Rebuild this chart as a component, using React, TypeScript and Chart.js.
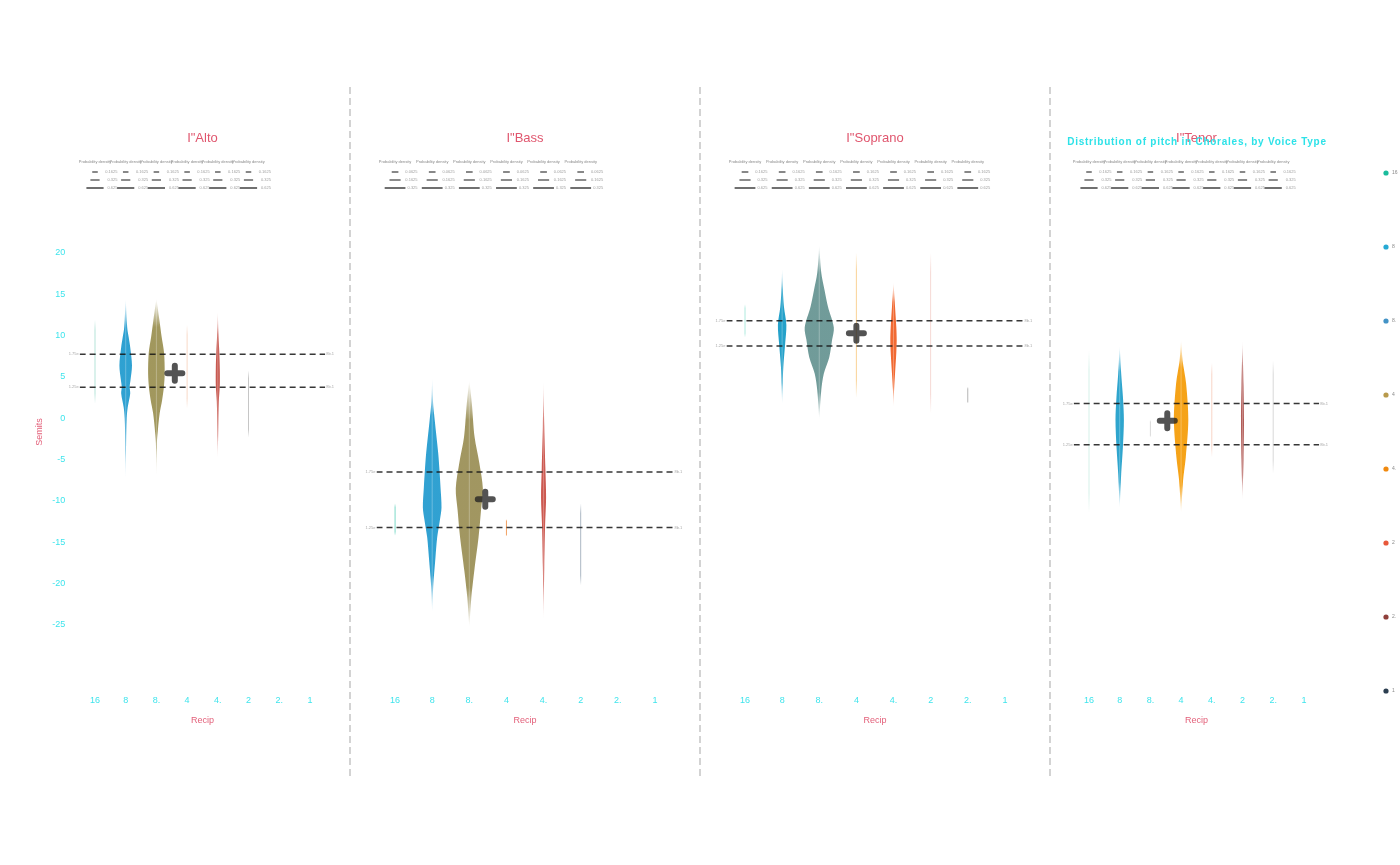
import React, { useEffect, useRef } from 'react';
import { Chart, registerables } from 'chart.js';

Chart.register(...registerables);

// ---------- data ----------
const categories = ['16', '8', '8.', '4', '4.', '2', '2.', '1'];
const yTicks = [20, 15, 10, 5, 0, -5, -10, -15, -20, -25];
const facetNames = ['I"Alto', 'I"Bass', 'I"Soprano', 'I"Tenor'];
const mainTitle = 'Distribution of pitch in Chorales, by Voice Type';
const legendLabels = ['16', '8', '8.', '4', '4.', '2', '2.', '1'];
const sizeLegendHeader = 'Probability density';
const sizeLegendLabels = ['0.1625', '0.325', '0.625'];
const sizeLegendLabelsBass = ['0.0625', '0.1625', '0.325'];
const quantileLeftLabels = ['1.75e', '1.25e'];
const quantileRightLabels = ['8b.1', '8b.1'];

// Alto
const altoViolinCats = [1, 2, 4];
const altoViolinPitch = [
  [-7.5, -3, 0, 1.3, 3, 3.8, 4.6, 6.4, 8.6, 9.8, 11, 14.5],
  [-7.1, -3, -1.4, 0.6, 2.2, 3.8, 5.4, 7.9, 9.8, 11.9, 14.5],
  [-5, -1, 2, 4, 6, 8, 10, 13],
];
const altoViolinDensity = [
  [0, 0.013, 0.033, 0.065, 0.147, 0.13, 0.156, 0.205, 0.147, 0.098, 0.049, 0],
  [0, 0.016, 0.049, 0.107, 0.186, 0.244, 0.27, 0.25, 0.173, 0.098, 0],
  [0, 0.016, 0.033, 0.065, 0.065, 0.049, 0.023, 0],
];
const altoLineCats = [0, 3, 5];
const altoLineLow = [1.8, 1.2, -2.3];
const altoLineHigh = [11.9, 11.3, 5.8];
const altoQuantiles = [7.75, 3.75];
const altoMean = [2.6, 5.45];

// Bass
const bassViolinCats = [1, 2, 4];
const bassViolinPitch = [
  [-23.6, -20.4, -16.8, -14.4, -12.3, -10.8, -8.3, -6.3, -4.2, -0.2, 2, 5],
  [-25.3, -21.7, -18.4, -14.4, -11.1, -8.5, -5.4, -2.3, 1.8, 4.6],
  [-24.5, -18, -13, -9.6, -6, -1, 4.6],
];
const bassViolinDensity = [
  [0, 0.027, 0.089, 0.135, 0.208, 0.251, 0.224, 0.197, 0.162, 0.068, 0.022, 0],
  [0, 0.054, 0.135, 0.249, 0.316, 0.365, 0.27, 0.143, 0.068, 0],
  [0, 0.019, 0.041, 0.068, 0.049, 0.019, 0],
];
const bassLineCats = [0, 3, 5];
const bassLineLow = [-14.2, -14.3, -20.2];
const bassLineHigh = [-10.3, -12.2, -10.3];
const bassQuantiles = [-6.5, -13.2];
const bassMean = [2.43, -9.8];

// Soprano
const sopranoViolinCats = [1, 2, 4];
const sopranoViolinPitch = [
  [1.6, 4, 6.2, 9, 11.3, 13.5, 15.5, 18.2],
  [-0.2, 3.4, 5.4, 7.4, 9.5, 11, 13.5, 15.5, 17.6, 21],
  [1.3, 3.5, 5.4, 8, 9.5, 11, 13.5, 16.5],
];
const sopranoViolinDensity = [
  [0, 0.014, 0.032, 0.081, 0.114, 0.049, 0.019, 0],
  [0, 0.054, 0.122, 0.27, 0.346, 0.392, 0.235, 0.143, 0.054, 0],
  [0, 0.016, 0.041, 0.076, 0.086, 0.076, 0.041, 0],
];
const sopranoLineCats = [0, 3, 5, 6];
const sopranoLineLow = [9.8, 2.5, 0.6, 1.8];
const sopranoLineHigh = [13.8, 20, 20, 3.8];
const sopranoQuantiles = [11.8, 8.75];
const sopranoMean = [3, 10.3];

// Tenor
const tenorViolinCats = [1, 3, 5];
const tenorViolinPitch = [
  [-10.9, -6.7, -3.5, -0.2, 2.5, 5.4, 8.8],
  [-11.5, -7.5, -4.7, -0.2, 4.2, 7, 9.5],
  [-10, -5, -0.2, 4, 9.5],
];
const tenorViolinDensity = [
  [0, 0.049, 0.104, 0.137, 0.107, 0.049, 0],
  [0, 0.065, 0.153, 0.235, 0.163, 0.049, 0],
  [0, 0.033, 0.049, 0.033, 0],
];
const tenorLineCats = [0, 2, 4, 6];
const tenorLineLow = [-11.4, -2.3, -4.7, -6.7];
const tenorLineHigh = [8.2, -0.2, 6.7, 7];
const tenorQuantiles = [1.8, -3.2];
const tenorMean = [2.55, -0.3];

// ---------- styles ----------
const FONT = "'Liberation Sans', Arial, Helvetica, sans-serif";
const CYAN = '#3ee4ec';
const PINK = '#e3607a';
const legendColors = ['#1abc9c', '#26a9d4', '#4393c6', '#b89a4c', '#f0890f', '#e8583a', '#8f3f3b', '#2c3e50'];

const altoViolinColors = ['rgba(40,158,208,0.97)', 'rgba(158,148,88,0.97)', 'rgba(190,60,50,0.85)'];
const altoLineColors = ['rgba(120,205,185,0.55)', 'rgba(240,170,130,0.45)', 'rgba(160,160,160,0.6)'];
const bassViolinColors = ['rgba(42,158,208,0.97)', 'rgba(158,147,92,0.97)', 'rgba(195,60,50,0.85)'];
const bassLineColors = ['rgba(100,210,190,0.85)', 'rgba(240,150,80,0.9)', 'rgba(150,165,180,0.8)'];
const sopranoViolinColors = ['rgba(30,158,200,0.97)', 'rgba(108,152,150,0.97)', 'rgba(240,98,40,0.95)'];
const sopranoLineColors = ['rgba(120,220,200,0.6)', 'rgba(245,180,80,0.6)', 'rgba(235,170,160,0.45)', 'rgba(150,150,150,0.7)'];
const tenorViolinColors = ['rgba(40,162,204,0.97)', 'rgba(245,160,17,0.97)', 'rgba(165,65,60,0.85)'];
const tenorLineColors = ['rgba(150,220,200,0.4)', 'rgba(180,180,180,0.5)', 'rgba(240,160,130,0.45)', 'rgba(190,190,190,0.6)'];

// ---------- layout ----------
const Y_MIN = -33;
const Y_MAX = 26;
const PLOT_TOP = 203.4;
const PLOT_BOTTOM = 691.1;
const X_AXIS_H = 20;
const Y_AXIS_W = 30;
const facetLeft = [79.65, 376.5, 726.45, 1073.65];
const facetRight = [325.25, 673.5, 1023.45, 1319.25];

type Facet = {
  name: string;
  violinCats: number[];
  violinPitch: number[][];
  violinDensity: number[][];
  violinColors: string[];
  lineCats: number[];
  lineLow: number[];
  lineHigh: number[];
  lineColors: string[];
  quantiles: number[];
  mean: number[];
  sizeLabels: string[];
};

const facets: Facet[] = [
  { name: facetNames[0], violinCats: altoViolinCats, violinPitch: altoViolinPitch, violinDensity: altoViolinDensity, violinColors: altoViolinColors, lineCats: altoLineCats, lineLow: altoLineLow, lineHigh: altoLineHigh, lineColors: altoLineColors, quantiles: altoQuantiles, mean: altoMean, sizeLabels: sizeLegendLabels },
  { name: facetNames[1], violinCats: bassViolinCats, violinPitch: bassViolinPitch, violinDensity: bassViolinDensity, violinColors: bassViolinColors, lineCats: bassLineCats, lineLow: bassLineLow, lineHigh: bassLineHigh, lineColors: bassLineColors, quantiles: bassQuantiles, mean: bassMean, sizeLabels: sizeLegendLabelsBass },
  { name: facetNames[2], violinCats: sopranoViolinCats, violinPitch: sopranoViolinPitch, violinDensity: sopranoViolinDensity, violinColors: sopranoViolinColors, lineCats: sopranoLineCats, lineLow: sopranoLineLow, lineHigh: sopranoLineHigh, lineColors: sopranoLineColors, quantiles: sopranoQuantiles, mean: sopranoMean, sizeLabels: sizeLegendLabels },
  { name: facetNames[3], violinCats: tenorViolinCats, violinPitch: tenorViolinPitch, violinDensity: tenorViolinDensity, violinColors: tenorViolinColors, lineCats: tenorLineCats, lineLow: tenorLineLow, lineHigh: tenorLineHigh, lineColors: tenorLineColors, quantiles: tenorQuantiles, mean: tenorMean, sizeLabels: sizeLegendLabels },
];

function withAlpha(rgba: string, a: number): string {
  const m = rgba.match(/rgba?\(([^)]+)\)/);
  if (!m) return rgba;
  const parts = m[1].split(',').map((s) => s.trim());
  const base = parts.length > 3 ? parseFloat(parts[3]) : 1;
  return `rgba(${parts[0]},${parts[1]},${parts[2]},${base * a})`;
}

// vertical fade toward the tails, computed through the y scale
function fadeFill(color: string, lo: number, hi: number, edge: number) {
  return (c: any) => {
    const chart = c.chart;
    const ys = chart.scales && chart.scales.y;
    if (!ys || !chart.chartArea) return color;
    const y0 = ys.getPixelForValue(lo);
    const y1 = ys.getPixelForValue(hi);
    if (!isFinite(y0) || !isFinite(y1) || y0 === y1) return color;
    const g = chart.ctx.createLinearGradient(0, y0, 0, y1);
    g.addColorStop(0, withAlpha(color, 0));
    g.addColorStop(edge, withAlpha(color, 1));
    g.addColorStop(1 - edge, withAlpha(color, 1));
    g.addColorStop(1, withAlpha(color, 0));
    return g;
  };
}

function buildDatasets(f: Facet): any[] {
  const ds: any[] = [];
  ds.push({
    label: 'mean',
    data: [{ x: f.mean[0], y: f.mean[1] }],
    showLine: false,
    pointStyle: 'cross',
    pointRadius: 7.5,
    pointBorderWidth: 6,
    pointBorderColor: 'rgba(35,35,35,0.78)',
    pointBackgroundColor: 'rgba(0,0,0,0)',
    order: 0,
  });
  f.quantiles.forEach((q) => {
    ds.push({
      label: 'quantile',
      data: [{ x: -0.5, y: q }, { x: 7.5, y: q }],
      borderColor: 'rgba(20,20,20,0.85)',
      borderWidth: 1.5,
      borderDash: [6, 4],
      pointRadius: 0,
      fill: false,
      order: 1,
    });
  });
  f.violinCats.forEach((c, i) => {
    const p = f.violinPitch[i];
    const d = f.violinDensity[i];
    const pts: { x: number; y: number }[] = [];
    for (let j = 0; j < p.length; j++) pts.push({ x: c + d[j], y: p[j] });
    for (let j = p.length - 1; j >= 0; j--) pts.push({ x: c - d[j], y: p[j] });
    ds.push({
      label: 'violin',
      data: pts,
      backgroundColor: fadeFill(f.violinColors[i], p[0], p[p.length - 1], 0.16),
      borderColor: 'rgba(0,0,0,0)',
      borderWidth: 0,
      fill: 'shape',
      tension: 0.3,
      pointRadius: 0,
      order: 2,
    });
    ds.push({
      label: 'center',
      data: [{ x: c, y: p[0] }, { x: c, y: p[p.length - 1] }],
      borderColor: 'rgba(255,255,255,0.28)',
      borderWidth: 1,
      pointRadius: 0,
      fill: false,
      order: 1.5,
    });
  });
  f.lineCats.forEach((c, i) => {
    ds.push({
      label: 'thin',
      data: [{ x: c, y: f.lineLow[i] }, { x: c, y: f.lineHigh[i] }],
      borderColor: fadeFill(f.lineColors[i], f.lineLow[i], f.lineHigh[i], 0.12),
      borderWidth: 1,
      pointRadius: 0,
      fill: false,
      order: 2,
    });
  });
  return ds;
}

function decorPlugin(f: Facet, idx: number) {
  return {
    id: 'decor' + idx,
    beforeDatasetDraw(chart: any, args: any) {
      if (chart.data.datasets[args.index].label === 'mean') chart.ctx.lineCap = 'round';
    },
    afterDatasetDraw(chart: any) {
      chart.ctx.lineCap = 'butt';
    },
    afterDraw(chart: any) {
      const ctx = chart.ctx as CanvasRenderingContext2D;
      const { left, right } = chart.chartArea;
      const xs = chart.scales.x;
      const ys = chart.scales.y;
      const cx = (left + right) / 2;
      const step = xs.getPixelForValue(1) - xs.getPixelForValue(0);
      ctx.save();

      // facet title
      ctx.textAlign = 'center';
      ctx.textBaseline = 'middle';
      ctx.font = `13px ${FONT}`;
      ctx.fillStyle = '#e0566e';
      ctx.fillText(f.name, cx, 138);

      // x-axis title
      ctx.font = `9px ${FONT}`;
      ctx.fillStyle = PINK;
      ctx.fillText('Recip', cx, 721);

      // size legend (mini)
      const used = Math.max(...f.violinCats, ...f.lineCats) + 1;
      const halfLens = [0.09, 0.15, 0.28];
      const widths = [2, 1.5, 1.2];
      const strokes = ['#888', '#666', '#111'];
      const rowsY = [172, 180, 188];
      for (let c = 0; c < used; c++) {
        const px = xs.getPixelForValue(c);
        ctx.font = `4px ${FONT}`;
        ctx.fillStyle = '#8a8a8a';
        ctx.textAlign = 'center';
        ctx.fillText(sizeLegendHeader, px, 162);
        for (let r = 0; r < 3; r++) {
          const hl = halfLens[r] * step;
          ctx.beginPath();
          ctx.moveTo(px - hl, rowsY[r]);
          ctx.lineTo(px + hl, rowsY[r]);
          ctx.lineWidth = widths[r];
          ctx.strokeStyle = strokes[r];
          ctx.stroke();
          ctx.fillStyle = '#a0a0a0';
          ctx.textAlign = 'right';
          ctx.fillText(f.sizeLabels[r], px + 22.5, rowsY[r]);
        }
      }

      // quantile end labels
      ctx.font = `4px ${FONT}`;
      ctx.fillStyle = '#aaa';
      f.quantiles.forEach((q, i) => {
        const py = ys.getPixelForValue(q);
        ctx.textAlign = 'right';
        ctx.fillText(quantileLeftLabels[i], left - 1, py);
        ctx.textAlign = 'left';
        ctx.fillText(quantileRightLabels[i], right + 1, py);
      });

      if (idx === 0) {
        // y-axis title
        ctx.save();
        ctx.translate(40, 432);
        ctx.rotate(-Math.PI / 2);
        ctx.textAlign = 'center';
        ctx.font = `9px ${FONT}`;
        ctx.fillStyle = PINK;
        ctx.fillText('Semits', 0, 0);
        ctx.restore();
        // facet separators
        ctx.strokeStyle = '#d3d3d3';
        ctx.lineWidth = 2;
        ctx.setLineDash([7, 4]);
        [350, 700, 1050].forEach((sx) => {
          ctx.beginPath();
          ctx.moveTo(sx, 87);
          ctx.lineTo(sx, 778);
          ctx.stroke();
        });
        ctx.setLineDash([]);
      }

      if (idx === 3) {
        // main title
        ctx.textAlign = 'center';
        ctx.font = `bold 10px ${FONT}`;
        (ctx as any).letterSpacing = '0.75px';
        ctx.fillStyle = '#2de2e8';
        ctx.fillText(mainTitle, 1197, 142);
        (ctx as any).letterSpacing = '0px';
        // color legend
        legendLabels.forEach((lab, i) => {
          const ly = 173 + i * 74;
          ctx.beginPath();
          ctx.arc(1386, ly, 2.6, 0, Math.PI * 2);
          ctx.fillStyle = legendColors[i];
          ctx.fill();
          ctx.font = `5px ${FONT}`;
          ctx.fillStyle = '#8a8a8a';
          ctx.textAlign = 'left';
          ctx.fillText(lab, 1392, ly);
        });
      }
      ctx.restore();
    },
  };
}

function buildConfig(f: Facet, idx: number): any {
  const showY = idx === 0;
  const yw = showY ? Y_AXIS_W : 0;
  return {
    type: 'line',
    data: { datasets: buildDatasets(f) },
    options: {
      animation: false,
      responsive: false,
      events: [],
      layout: {
        padding: {
          left: facetLeft[idx] - yw,
          right: 1400 - facetRight[idx],
          top: PLOT_TOP,
          bottom: 865 - PLOT_BOTTOM - X_AXIS_H,
        },
      },
      plugins: {
        legend: { display: false },
        tooltip: { enabled: false },
        title: { display: false },
      },
      scales: {
        x: {
          type: 'linear',
          min: -0.5,
          max: 7.5,
          afterBuildTicks: (ax: any) => {
            ax.ticks = categories.map((_, i) => ({ value: i }));
          },
          afterFit: (s: any) => {
            s.height = X_AXIS_H;
          },
          ticks: {
            callback: (v: number) => categories[v] ?? '',
            color: CYAN,
            font: { size: 9, family: FONT },
            padding: 4,
            autoSkip: false,
            maxRotation: 0,
          },
          grid: { display: false, drawTicks: false },
          border: { display: false },
        },
        y: {
          type: 'linear',
          min: Y_MIN,
          max: Y_MAX,
          display: showY,
          afterBuildTicks: (ax: any) => {
            ax.ticks = yTicks.map((v) => ({ value: v }));
          },
          afterFit: (s: any) => {
            s.width = yw;
          },
          ticks: {
            display: showY,
            color: CYAN,
            font: { size: 9, family: FONT },
            padding: 14.5,
          },
          grid: { display: false, drawTicks: false },
          border: { display: false },
        },
      },
    },
    plugins: [decorPlugin(f, idx)],
  };
}

function FacetChart({ spec, index }: { spec: Facet; index: number }) {
  const ref = useRef<HTMLCanvasElement>(null);
  useEffect(() => {
    if (!ref.current) return;
    const chart = new Chart(ref.current, buildConfig(spec, index));
    return () => chart.destroy();
  }, [spec, index]);
  return (
    <canvas
      ref={ref}
      width={1400}
      height={865}
      style={{ position: 'absolute', left: 0, top: 0, width: 1400, height: 865 }}
    />
  );
}

export default function App() {
  return (
    <div style={{ position: 'absolute', left: 0, top: 0, width: 1400, height: 865, overflow: 'hidden', background: '#fff' }}>
      {facets.map((f, i) => (
        <FacetChart key={i} spec={f} index={i} />
      ))}
    </div>
  );
}
